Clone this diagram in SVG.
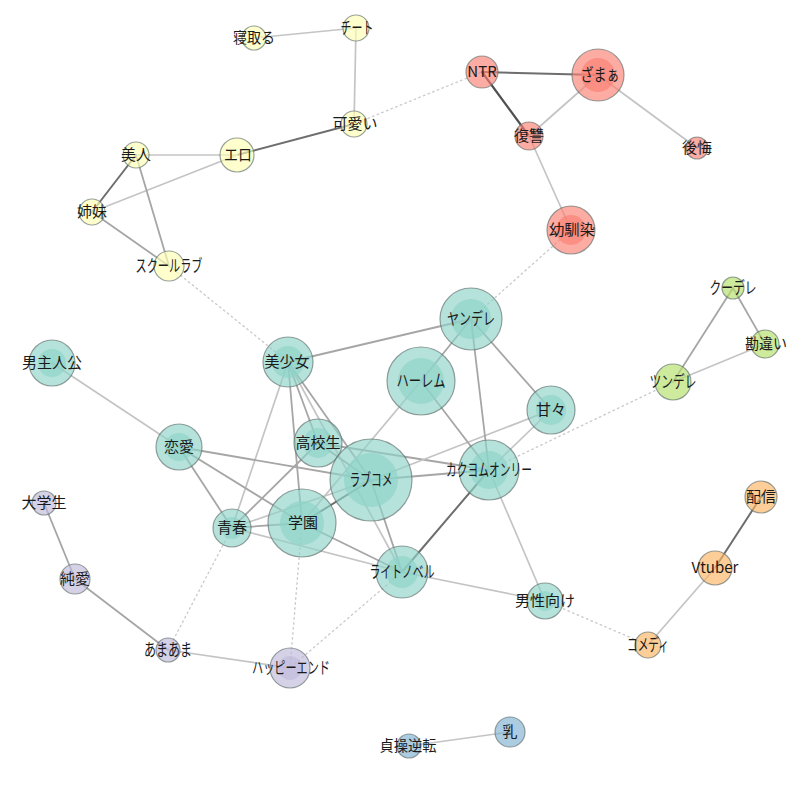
<svg xmlns="http://www.w3.org/2000/svg" width="805" height="785" viewBox="0 0 805 785">
<style>
.bg{fill:#ffffff}
line{stroke-linecap:round}
.e1{stroke:#c4c4c4;stroke-width:1.7}
.e2{stroke:#a6a6a6;stroke-width:1.8}
.e3{stroke:#6e6e6e;stroke-width:2}
.e4{stroke:#505050;stroke-width:2.2}
.dot{stroke:#cccccc;stroke-width:1.4;stroke-dasharray:1.5 3.5}
circle{stroke:#5f6f6b;stroke-opacity:0.65;stroke-width:1.2;fill-opacity:0.65}
circle.in{stroke:none}
.t2{fill:#8dd3c7}
.y{fill:#ffffb3}
.p{fill:#bebada}
.r{fill:#fb8072}
.b{fill:#80b1d3}
.o{fill:#fdb462}
.g{fill:#b3de69}
text{font-family:"Noto Sans CJK JP","Noto Sans",sans-serif;font-size:15px;fill:#1a1a1a;text-anchor:middle}
text.k{font-size:16.5px}
</style>
<rect class="bg" x="0" y="0" width="805" height="785"/>
<g id="edges">
<line class="e1" x1="254" y1="38" x2="356" y2="28"/>
<line class="e1" x1="356" y1="28" x2="354" y2="124"/>
<line class="e3" x1="354" y1="124" x2="237" y2="155"/>
<line class="e1" x1="136" y1="155" x2="237" y2="155"/>
<line class="e1" x1="92" y1="212" x2="237" y2="155"/>
<line class="e3" x1="136" y1="155" x2="92" y2="212"/>
<line class="e2" x1="136" y1="155" x2="169" y2="266"/>
<line class="e2" x1="92" y1="212" x2="169" y2="266"/>
<line class="e3" x1="482" y1="72" x2="598" y2="75"/>
<line class="e4" x1="482" y1="72" x2="529" y2="136"/>
<line class="e1" x1="529" y1="136" x2="598" y2="75"/>
<line class="e1" x1="598" y1="75" x2="697" y2="148"/>
<line class="e1" x1="529" y1="136" x2="571" y2="230"/>
<line class="e2" x1="733" y1="288" x2="765" y2="344"/>
<line class="e2" x1="733" y1="288" x2="673" y2="382"/>
<line class="e1" x1="673" y1="382" x2="765" y2="344"/>
<line class="e3" x1="761" y1="497" x2="715" y2="568"/>
<line class="e1" x1="715" y1="568" x2="648" y2="645"/>
<line class="e2" x1="44" y1="503" x2="75" y2="579"/>
<line class="e2" x1="75" y1="579" x2="168" y2="650"/>
<line class="e1" x1="168" y1="650" x2="290" y2="668"/>
<line class="e1" x1="409" y1="746" x2="510" y2="732"/>
<line class="e1" x1="52" y1="363" x2="179" y2="447"/>
<line class="e2" x1="288" y1="362" x2="471" y2="319"/>
<line class="e1" x1="288" y1="362" x2="232" y2="528"/>
<line class="e2" x1="288" y1="362" x2="302" y2="523"/>
<line class="e2" x1="288" y1="362" x2="318" y2="443"/>
<line class="e2" x1="288" y1="362" x2="371" y2="480"/>
<line class="e1" x1="288" y1="362" x2="402" y2="572"/>
<line class="e2" x1="179" y1="447" x2="232" y2="528"/>
<line class="e2" x1="179" y1="447" x2="302" y2="523"/>
<line class="e2" x1="179" y1="447" x2="371" y2="480"/>
<line class="e2" x1="232" y1="528" x2="318" y2="443"/>
<line class="e1" x1="232" y1="528" x2="371" y2="480"/>
<line class="e2" x1="232" y1="528" x2="302" y2="523"/>
<line class="e1" x1="232" y1="528" x2="402" y2="572"/>
<line class="e3" x1="302" y1="523" x2="371" y2="480"/>
<line class="e2" x1="302" y1="523" x2="402" y2="572"/>
<line class="e1" x1="302" y1="523" x2="421" y2="381"/>
<line class="e2" x1="318" y1="443" x2="489" y2="470"/>
<line class="e2" x1="318" y1="443" x2="371" y2="480"/>
<line class="e2" x1="371" y1="480" x2="489" y2="470"/>
<line class="e1" x1="371" y1="480" x2="551" y2="410"/>
<line class="e2" x1="371" y1="480" x2="402" y2="572"/>
<line class="e2" x1="471" y1="319" x2="421" y2="381"/>
<line class="e2" x1="471" y1="319" x2="489" y2="470"/>
<line class="e2" x1="471" y1="319" x2="551" y2="410"/>
<line class="e2" x1="421" y1="381" x2="489" y2="470"/>
<line class="e1" x1="551" y1="410" x2="489" y2="470"/>
<line class="e3" x1="489" y1="470" x2="402" y2="572"/>
<line class="e1" x1="489" y1="470" x2="545" y2="601"/>
<line class="e1" x1="402" y1="572" x2="545" y2="601"/>
<line class="dot" x1="169" y1="266" x2="288" y2="362"/>
<line class="dot" x1="354" y1="124" x2="482" y2="72"/>
<line class="dot" x1="571" y1="230" x2="471" y2="319"/>
<line class="dot" x1="673" y1="382" x2="489" y2="470"/>
<line class="dot" x1="545" y1="601" x2="648" y2="645"/>
<line class="dot" x1="232" y1="528" x2="168" y2="650"/>
<line class="dot" x1="302" y1="523" x2="290" y2="668"/>
<line class="dot" x1="402" y1="572" x2="290" y2="668"/>
</g>
<g id="n-netoru"><circle class="y" cx="254" cy="38" r="12"/><text x="254" y="43" textLength="42" lengthAdjust="spacingAndGlyphs">寝取る</text></g>
<g id="n-cheat"><circle class="y" cx="356" cy="28" r="13"/><text class="k" x="357" y="34" textLength="33" lengthAdjust="spacingAndGlyphs">チート</text></g>
<g id="n-kawaii"><circle class="y" cx="354" cy="124" r="13"/><text x="355" y="129">可愛い</text></g>
<g id="n-ero"><circle class="y" cx="237" cy="155" r="17"/><text class="k" x="238" y="161" textLength="28" lengthAdjust="spacingAndGlyphs">エロ</text></g>
<g id="n-bijin"><circle class="y" cx="136" cy="155" r="13"/><text x="136" y="160">美人</text></g>
<g id="n-shimai"><circle class="y" cx="92" cy="212" r="13"/><text x="92" y="217">姉妹</text></g>
<g id="n-schoollove"><circle class="y" cx="169" cy="266" r="15"/><text class="k" x="169" y="272" textLength="67" lengthAdjust="spacingAndGlyphs">スクールラブ</text></g>
<g id="n-ntr"><circle class="r" cx="482" cy="72" r="16"/><text x="482" y="77">NTR</text></g>
<g id="n-zamaa"><circle class="r" cx="598" cy="75" r="26"/><circle class="r in" cx="598" cy="75" r="17"/><text class="k" x="600" y="81" textLength="39" lengthAdjust="spacingAndGlyphs">ざまぁ</text></g>
<g id="n-fukushu"><circle class="r" cx="529" cy="136" r="14"/><text x="529" y="141">復讐</text></g>
<g id="n-kokai"><circle class="r" cx="697" cy="148" r="11"/><text x="697" y="153">後悔</text></g>
<g id="n-osananajimi"><circle class="r" cx="571" cy="230" r="24"/><circle class="r in" cx="571" cy="230" r="15"/><text x="572" y="235" textLength="46" lengthAdjust="spacingAndGlyphs">幼馴染</text></g>
<g id="n-kuudere"><circle class="g" cx="733" cy="288" r="11"/><text class="k" x="733" y="294" textLength="47" lengthAdjust="spacingAndGlyphs">クーデレ</text></g>
<g id="n-kanchigai"><circle class="g" cx="765" cy="344" r="14"/><text x="766" y="349" textLength="42" lengthAdjust="spacingAndGlyphs">勘違い</text></g>
<g id="n-tsundere"><circle class="g" cx="673" cy="382" r="18"/><text class="k" x="673" y="388" textLength="47" lengthAdjust="spacingAndGlyphs">ツンデレ</text></g>
<g id="n-haishin"><circle class="o" cx="761" cy="497" r="16"/><text x="761" y="502">配信</text></g>
<g id="n-vtuber"><circle class="o" cx="715" cy="568" r="17"/><text x="715" y="573">Vtuber</text></g>
<g id="n-comedy"><circle class="o" cx="648" cy="645" r="13"/><text class="k" x="648" y="651" textLength="42" lengthAdjust="spacingAndGlyphs">コメディ</text></g>
<g id="n-daigakusei"><circle class="p" cx="44" cy="503" r="12"/><text x="44" y="508">大学生</text></g>
<g id="n-junai"><circle class="p" cx="75" cy="579" r="15"/><text x="75" y="584">純愛</text></g>
<g id="n-amaama"><circle class="p" cx="168" cy="650" r="12"/><text class="k" x="168" y="656" textLength="48" lengthAdjust="spacingAndGlyphs">あまあま</text></g>
<g id="n-happyend"><circle class="p" cx="290" cy="668" r="20"/><circle class="p in" cx="290" cy="668" r="12"/><text class="k" x="291" y="674" textLength="78" lengthAdjust="spacingAndGlyphs">ハッピーエンド</text></g>
<g id="n-teisou"><circle class="b" cx="409" cy="746" r="12"/><text x="408" y="751" textLength="57" lengthAdjust="spacingAndGlyphs">貞操逆転</text></g>
<g id="n-chichi"><circle class="b" cx="510" cy="732" r="15"/><text x="510" y="737">乳</text></g>
<g id="n-otokoshujinko"><circle class="t2" cx="52" cy="363" r="23"/><circle class="t2 in" cx="52" cy="363" r="14"/><text x="52" y="368">男主人公</text></g>
<g id="n-bishojo"><circle class="t2" cx="288" cy="362" r="25"/><circle class="t2 in" cx="288" cy="362" r="16"/><text x="287" y="367">美少女</text></g>
<g id="n-yandere"><circle class="t2" cx="471" cy="319" r="31"/><circle class="t2 in" cx="471" cy="319" r="20"/><text class="k" x="471" y="325" textLength="48" lengthAdjust="spacingAndGlyphs">ヤンデレ</text></g>
<g id="n-harem"><circle class="t2" cx="421" cy="381" r="34"/><circle class="t2 in" cx="421" cy="381" r="23"/><text class="k" x="421" y="387" textLength="49" lengthAdjust="spacingAndGlyphs">ハーレム</text></g>
<g id="n-amaama2"><circle class="t2" cx="551" cy="410" r="24"/><circle class="t2 in" cx="551" cy="410" r="15"/><text x="551" y="415">甘々</text></g>
<g id="n-renai"><circle class="t2" cx="179" cy="447" r="23"/><circle class="t2 in" cx="179" cy="447" r="14"/><text x="179" y="452">恋愛</text></g>
<g id="n-kokosei"><circle class="t2" cx="318" cy="443" r="24"/><circle class="t2 in" cx="318" cy="443" r="15"/><text x="318" y="448">高校生</text></g>
<g id="n-lovecome"><circle class="t2" cx="371" cy="480" r="41"/><circle class="t2 in" cx="371" cy="480" r="27"/><text class="k" x="371" y="486" textLength="43" lengthAdjust="spacingAndGlyphs">ラブコメ</text></g>
<g id="n-kakuyomu"><circle class="t2" cx="489" cy="470" r="30"/><circle class="t2 in" cx="489" cy="470" r="19"/><text class="k" x="489" y="476" textLength="86" lengthAdjust="spacingAndGlyphs">カクヨムオンリー</text></g>
<g id="n-seishun"><circle class="t2" cx="232" cy="528" r="19"/><circle class="t2 in" cx="232" cy="528" r="11"/><text x="232" y="533">青春</text></g>
<g id="n-gakuen"><circle class="t2" cx="302" cy="523" r="34"/><circle class="t2 in" cx="302" cy="523" r="22"/><text x="303" y="528">学園</text></g>
<g id="n-lightnovel"><circle class="t2" cx="402" cy="572" r="26"/><circle class="t2 in" cx="402" cy="572" r="16"/><text class="k" x="402" y="578" textLength="65" lengthAdjust="spacingAndGlyphs">ライトノベル</text></g>
<g id="n-danseimuke"><circle class="t2" cx="545" cy="601" r="18"/><circle class="t2 in" cx="545" cy="601" r="10"/><text x="545" y="606">男性向け</text></g>
</svg>
